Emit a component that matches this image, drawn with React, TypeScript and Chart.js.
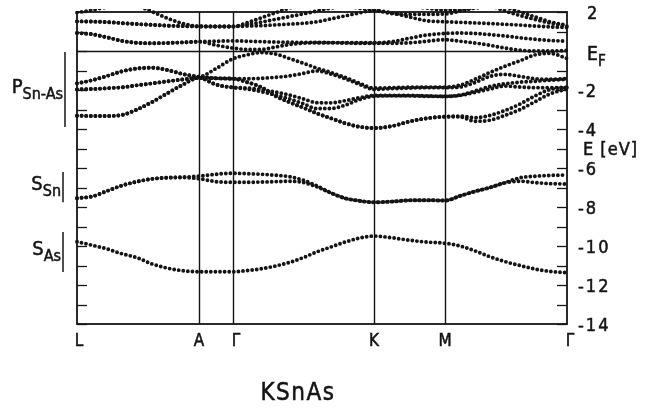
import React, { useEffect, useRef } from "react";
import { Chart, registerables } from "chart.js";

Chart.register(...registerables);

// Path through the Brillouin zone: sample positions (k-distance along the path)
const kGrid = [
  0, 15, 30, 45, 60, 75, 90, 105, 122, // L - A
  139, 156, // A - Γ
  170, 184, 198, 212, 226, 240, 254, 268, 282, 297, // Γ - K
  315, 332, 350, 368, // K - M
  383, 398, 413, 428, 443, 458, 473, 490, // M - Γ
];

const kPoints = [0, 122, 156, 297, 368, 490];
const kLabels = ["L", "A", "Γ", "K", "M", "Γ"];

// Energy axis (eV, relative to E_F)
const energyMin = -14;
const energyMax = 2;
const energyTickValues = [2, -2, -4, -6, -8, -10, -12, -14];
const energyTickTexts = ["2", "-2", "-4", "-6", "-8", "-10", "-12", "-14"];

// Band energies (eV) at each kGrid position
// As s band
const sAs = [
  -9.78, -9.96, -10.15, -10.4, -10.6, -10.92, -11.13, -11.26, -11.32,
  -11.32, -11.32,
  -11.26, -11.17, -11.03, -10.85, -10.6, -10.3, -10.05, -9.8, -9.6, -9.49,
  -9.58, -9.7, -9.8, -9.86,
  -10.0, -10.25, -10.55, -10.8, -11.0, -11.18, -11.3, -11.37,
];
// Sn s bands
const sSnUpper = [
  -7.55, -7.46, -7.18, -6.9, -6.7, -6.56, -6.5, -6.47, -6.42,
  -6.32, -6.27,
  -6.29, -6.32, -6.37, -6.44, -6.62, -6.92, -7.28, -7.55, -7.68, -7.76,
  -7.72, -7.66, -7.65, -7.67,
  -7.43, -7.2, -7.0, -6.75, -6.5, -6.42, -6.38, -6.36,
];
const sSnLower = [
  -7.55, -7.46, -7.18, -6.9, -6.7, -6.56, -6.5, -6.49, -6.55,
  -6.7, -6.73,
  -6.73, -6.72, -6.7, -6.68, -6.74, -6.97, -7.28, -7.55, -7.68, -7.76,
  -7.72, -7.66, -7.65, -7.67,
  -7.43, -7.2, -7.0, -6.76, -6.68, -6.75, -6.8, -6.82,
];
// Sn-As p valence bands
const p1 = [
  -3.32, -3.33, -3.33, -3.28, -3.0, -2.62, -2.18, -1.75, -1.38,
  -1.4, -1.42,
  -1.6, -1.85, -2.3, -2.62, -2.9, -3.2, -3.45, -3.7, -3.88, -3.95,
  -3.85, -3.62, -3.45, -3.37,
  -3.38, -3.6, -3.55, -3.3, -3.0, -2.6, -2.2, -1.95,
];
const p2 = [
  -3.32, -3.33, -3.33, -3.28, -3.0, -2.62, -2.18, -1.75, -1.38,
  -1.4, -1.42,
  -1.6, -1.85, -2.3, -2.62, -2.9, -3.2, -3.45, -3.7, -3.88, -3.95,
  -3.85, -3.62, -3.45, -3.37,
  -3.34, -3.42, -3.3, -3.05, -2.72, -2.3, -1.98, -1.87,
];
const p3 = [
  -1.97, -1.95, -1.91, -1.86, -1.76, -1.66, -1.56, -1.46, -1.38,
  -1.72, -1.87,
  -1.95, -2.08, -2.25, -2.45, -2.7, -2.95, -2.95, -2.78, -2.5, -2.32,
  -2.3, -2.3, -2.32, -2.33,
  -2.28, -2.12, -1.95, -1.8, -1.85, -1.88, -1.88, -1.87,
];
const p4 = [
  -1.97, -1.95, -1.91, -1.86, -1.76, -1.66, -1.56, -1.46, -1.38,
  -1.72, -1.87,
  -1.9, -1.98, -2.1, -2.25, -2.45, -2.65, -2.66, -2.55, -2.4, -2.28,
  -2.28, -2.28, -2.3, -2.32,
  -2.26, -2.05, -1.82, -1.68, -1.6, -1.55, -1.5, -1.45,
];
const p5 = [
  -1.66, -1.5, -1.28, -1.04, -0.9, -0.86, -0.97, -1.17, -1.32,
  -1.4, -1.42,
  -1.42, -1.4, -1.35, -1.28, -1.15, -1.02, -1.18, -1.42, -1.7, -1.97,
  -1.93, -1.9, -1.88, -1.88,
  -1.85, -1.62, -1.3, -1.2, -1.3, -1.42, -1.45, -1.42,
];
const p6 = [
  -1.66, -1.5, -1.28, -1.04, -0.9, -0.86, -0.97, -1.17, -1.32,
  -0.9, -0.4,
  -0.2, -0.08, -0.15, -0.38, -0.62, -0.88, -1.1, -1.35, -1.64, -1.9,
  -1.88, -1.86, -1.85, -1.85,
  -1.75, -1.45, -1.1, -0.78, -0.5, -0.2, -0.12, -0.38,
];
// Conduction bands
const c1 = [
  0.92, 0.86, 0.7, 0.52, 0.42, 0.4, 0.41, 0.44, 0.48,
  0.3, 0.15,
  0.08, 0.08, 0.2, 0.33, 0.4, 0.42, 0.42, 0.41, 0.4, 0.4,
  0.4, 0.42, 0.5, 0.58,
  0.5, 0.41, 0.29, 0.15, 0.04, 0.0, 0.0, 0.03,
];
const c2 = [
  0.92, 0.86, 0.7, 0.52, 0.42, 0.4, 0.41, 0.44, 0.48,
  0.5, 0.52,
  0.5, 0.48, 0.46, 0.45, 0.44, 0.44, 0.43, 0.43, 0.42, 0.42,
  0.48, 0.65, 0.82, 0.9,
  0.92, 0.9, 0.84, 0.77, 0.68, 0.6, 0.54, 0.5,
];
const c3 = [
  1.52, 1.51, 1.48, 1.43, 1.38, 1.34, 1.3, 1.28, 1.26,
  1.26, 1.26,
  1.28, 1.3, 1.34, 1.38, 1.42, 1.5, 1.65, 1.8, 1.95, 2.08,
  1.95, 1.75, 1.55, 1.5,
  1.47, 1.44, 1.41, 1.37, 1.33, 1.28, 1.24, 1.2,
];
const c4 = [
  1.97, 2.1, 2.25, 2.35, 2.3, 2.02, 1.69, 1.42, 1.27,
  1.26, 1.26,
  1.45, 1.7, 1.95, 2.2, 2.4, 2.5, 2.6, 2.6, 2.6, 2.5,
  2.4, 2.3, 2.2, 2.1,
  2.1, 2.2, 2.3, 2.05, 1.82, 1.62, 1.43, 1.27,
];
const c5 = [
  1.52, 1.51, 1.48, 1.43, 1.38, 1.34, 1.3, 1.28, 1.26,
  1.26, 1.26,
  1.35, 1.48, 1.62, 1.76, 1.9, 2.05, 2.2, 2.3, 2.2, 2.1,
  1.92, 1.88, 1.88, 1.9,
  2.05, 2.25, 2.35, 2.25, 2.0, 1.75, 1.5, 1.32,
];

const bands = [sAs, sSnUpper, sSnLower, p1, p2, p3, p4, p5, p6, c1, c2, c3, c4, c5];

// Orbital-character groups marked at the left edge
const groupMain = ["P", "S", "S"];
const groupSub = ["Sn-As", "Sn", "As"];
const groupRanges = [
  [-0.05, -3.9],
  [-6.2, -7.75],
  [-9.28, -11.33],
];

const compound = "KSnAs";

const INK = "#141414";
const FONT = "'DejaVu Sans Condensed', 'Liberation Sans Narrow', 'DejaVu Sans', sans-serif";

// filled text with a thin outline so the glyphs read a little heavier
function heavyText(ctx: CanvasRenderingContext2D, t: string, x: number, y: number) {
  ctx.fillText(t, x, y);
  ctx.strokeText(t, x, y);
}

const decorPlugin = {
  id: "bandDecor",
  beforeDatasetsDraw(chart: any) {
    const { ctx, chartArea: a, scales } = chart;
    const xs = scales.x;
    const ys = scales.y;
    const seg = (x1: number, y1: number, x2: number, y2: number) => {
      ctx.beginPath();
      ctx.moveTo(x1, y1);
      ctx.lineTo(x2, y2);
      ctx.stroke();
    };
    ctx.save();
    ctx.strokeStyle = INK;
    ctx.lineWidth = 1.4;
    // high-symmetry verticals
    kPoints.slice(1, -1).forEach((k) => {
      const px = Math.round(xs.getPixelForValue(k)) + 0.5;
      seg(px, a.top, px, a.bottom);
    });
    // Fermi level
    const yF = Math.round(ys.getPixelForValue(0)) + 0.5;
    seg(a.left, yF, a.right, yF);
    // inward ticks every 1 eV on both sides
    ctx.lineWidth = 1.3;
    for (let v = energyMin; v <= energyMax; v++) {
      const py = Math.round(ys.getPixelForValue(v)) + 0.5;
      seg(a.left, py, a.left + 10, py);
      seg(a.right - 10, py, a.right, py);
    }
    // frame
    ctx.lineWidth = 1.8;
    ctx.strokeRect(a.left, a.top, a.right - a.left, a.bottom - a.top);
    ctx.restore();
  },
  afterDraw(chart: any) {
    const { ctx, chartArea: a, scales } = chart;
    const xs = scales.x;
    const ys = scales.y;
    ctx.save();
    ctx.fillStyle = INK;
    ctx.strokeStyle = INK;
    ctx.lineWidth = 0.5;
    ctx.textBaseline = "middle";

    // energy tick labels (right side)
    ctx.font = `18px ${FONT}`;
    (ctx as any).letterSpacing = "2px";
    ctx.textAlign = "left";
    energyTickValues.forEach((v, i) => {
      const py = ys.getPixelForValue(v) + 2;
      const t = energyTickTexts[i];
      const x0 = t.startsWith("-") ? a.right + 11 : a.right + 20;
      heavyText(ctx, t, x0, py);
    });
    (ctx as any).letterSpacing = "0px";
    // E_F
    const yF = ys.getPixelForValue(0);
    ctx.font = `19px ${FONT}`;
    heavyText(ctx, "E", a.right + 20, yF + 4);
    ctx.font = `15px ${FONT}`;
    heavyText(ctx, "F", a.right + 31, yF + 11);
    // axis title
    ctx.font = `18px ${FONT}`;
    (ctx as any).letterSpacing = "1px";
    heavyText(ctx, "E [eV]", a.right + 16, ys.getPixelForValue(-5) + 2);
    (ctx as any).letterSpacing = "0px";

    // k-point labels
    ctx.font = `17px ${FONT}`;
    ctx.textAlign = "center";
    kPoints.forEach((k, i) => {
      const px = xs.getPixelForValue(k);
      const lab = kLabels[i];
      const dx = lab === "Γ" ? 3 : lab === "L" ? 2 : 0;
      heavyText(ctx, lab, px + dx, a.bottom + 18);
    });

    // compound name
    ctx.font = `24px ${FONT}`;
    (ctx as any).letterSpacing = "1.5px";
    heavyText(ctx, compound, 298, a.bottom + 70);
    (ctx as any).letterSpacing = "0px";

    // group labels with bars
    groupMain.forEach((m, i) => {
      const [e1, e2] = groupRanges[i];
      const y1 = ys.getPixelForValue(e1);
      const y2 = ys.getPixelForValue(e2);
      const barX = i === 0 ? a.left - 12 : a.left - 14;
      ctx.lineWidth = 1.5;
      ctx.beginPath();
      ctx.moveTo(barX, y1);
      ctx.lineTo(barX, y2);
      ctx.stroke();
      ctx.lineWidth = 0.5;
      const mid = (y1 + y2) / 2;
      ctx.textAlign = "left";
      ctx.font = `16px ${FONT}`;
      const subW = ctx.measureText(groupSub[i]).width;
      ctx.font = `20px ${FONT}`;
      const mainW = ctx.measureText(m).width;
      const right = barX - 2;
      const startX = right - subW - mainW;
      heavyText(ctx, m, startX, mid - 2);
      ctx.font = `16px ${FONT}`;
      heavyText(ctx, groupSub[i], startX + mainW, mid + 5);
    });

    ctx.restore();
  },
};

export default function App() {
  const canvasRef = useRef<HTMLCanvasElement | null>(null);

  useEffect(() => {
    document.body.style.margin = "0";
    const canvas = canvasRef.current;
    if (!canvas) return;
    const chart = new Chart(canvas, {
      type: "line",
      data: {
        datasets: bands.map((b) => ({
          data: kGrid.map((k, i) => ({ x: k, y: b[i] })),
          borderColor: INK,
          borderWidth: 3.9,
          borderDash: [0, 4.6],
          borderCapStyle: "round" as const,
          pointRadius: 0,
          fill: false,
          cubicInterpolationMode: "monotone" as const,
          clip: 3,
        })),
      },
      options: {
        responsive: false,
        devicePixelRatio: 1,
        animation: false,
        events: [],
        layout: { padding: { left: 77, right: 82, top: 12, bottom: 85 } },
        plugins: {
          legend: { display: false },
          tooltip: { enabled: false },
        },
        scales: {
          x: { type: "linear", min: 0, max: 490, display: false },
          y: { type: "linear", min: energyMin, max: energyMax, display: false },
        },
      },
      plugins: [decorPlugin],
    });
    return () => chart.destroy();
  }, []);

  return (
    <div style={{ width: 649, height: 409, background: "#fff" }}>
      <canvas ref={canvasRef} width={649} height={409} style={{ display: "block" }} />
    </div>
  );
}
